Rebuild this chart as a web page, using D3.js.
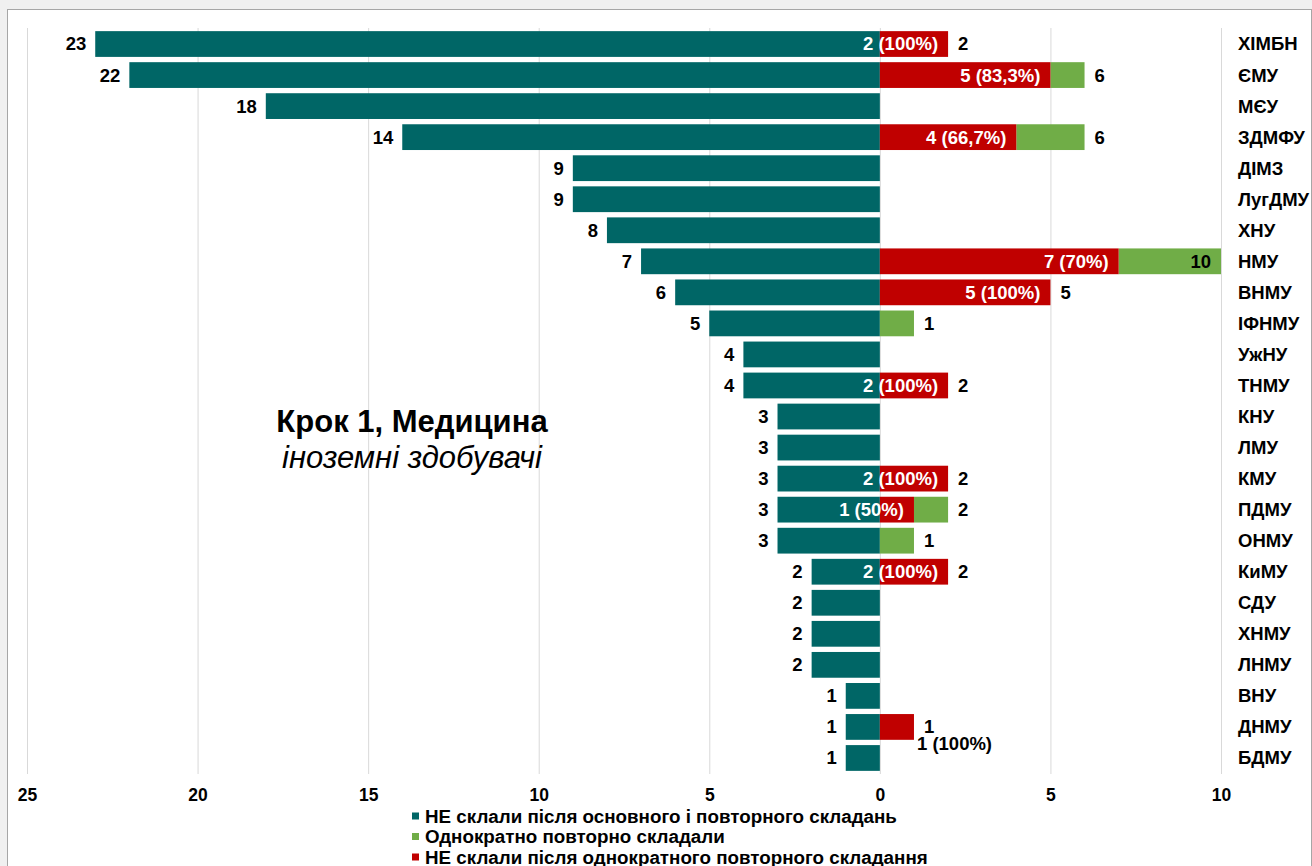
<!DOCTYPE html>
<html>
<head>
<meta charset="utf-8">
<script src="https://cdn.jsdelivr.net/npm/d3@7"></script>
<style>
  html, body { margin: 0; padding: 0; background: #f0f0f0; }
  svg { display: block; font-family: "Liberation Sans", Arial, sans-serif; }
</style>
</head>
<body>
<svg width="1312" height="866"></svg>
<script>
// universities, top to bottom
var universities = ["ХІМБН", "ЄМУ", "МЄУ", "ЗДМФУ", "ДІМЗ", "ЛугДМУ", "ХНУ", "НМУ", "ВНМУ", "ІФНМУ",
  "УжНУ", "ТНМУ", "КНУ", "ЛМУ", "КМУ", "ПДМУ", "ОНМУ", "КиМУ", "СДУ", "ХНМУ", "ЛНМУ", "ВНУ", "ДНМУ", "БДМУ"];

// НЕ склали після основного і повторного складань (drawn to the left)
var failedBoth = [23, 22, 18, 14, 9, 9, 8, 7, 6, 5, 4, 4, 3, 3, 3, 3, 3, 2, 2, 2, 2, 1, 1, 1];
// Однократно повторно складали (total on the right)
var retook = [2, 6, 0, 6, 0, 0, 0, 10, 5, 1, 0, 2, 0, 0, 2, 2, 1, 2, 0, 0, 0, 0, 1, 0];
// НЕ склали після однократного повторного складання
var failedRetake = [2, 5, 0, 4, 0, 0, 0, 7, 5, 0, 0, 2, 0, 0, 2, 1, 0, 2, 0, 0, 0, 0, 1, 0];
// share of the retakers that failed
var failedShare = ["100%", "83,3%", "", "66,7%", "", "", "", "70%", "100%", "", "", "100%", "", "", "100%", "50%", "", "100%", "", "", "", "", "100%", ""];

var xTicks = [-25, -20, -15, -10, -5, 0, 5, 10];
var legendLabels = ["НЕ склали після основного і повторного складань", "Однократно повторно складали", "НЕ склали після однократного повторного складання"];

var teal = "#006666", green = "#70ad47", red = "#c00000";

var rows = universities.map(function(u, i) {
  return {name: u, both: failedBoth[i], total: retook[i], red: failedRetake[i], share: failedShare[i]};
});

var svg = d3.select("svg");

// panel frame
svg.append("rect").attr("x", 7.5).attr("y", 9.5).attr("width", 1304).attr("height", 870)
  .attr("fill", "#fff").attr("stroke", "#a6a6a6");

var x = d3.scaleLinear().domain([-25, 10]).range([27, 1221]);
var y = d3.scaleBand().domain(universities).range([28.5, 773.5]).paddingInner(0.17).paddingOuter(0.085);

// grid
svg.append("g").selectAll("line").data(xTicks).enter().append("line")
  .attr("x1", d => x(d) + 0.5).attr("x2", d => x(d) + 0.5)
  .attr("y1", 28).attr("y2", 774)
  .attr("stroke", "#d9d9d9").attr("stroke-width", 1);

// axis labels
var xAxis = d3.axisBottom(x).tickValues(xTicks).tickSize(0).tickPadding(0).tickFormat(d => Math.abs(d));
var ax = svg.append("g").attr("transform", "translate(0,774)").call(xAxis);
ax.select(".domain").remove();
ax.selectAll("text").attr("dy", null).attr("y", 27)
  .attr("font-size", 17.5).attr("font-weight", "bold").attr("fill", "#000")
  .attr("font-family", "Liberation Sans, Arial, sans-serif");

var bars = svg.append("g");

// left: teal
bars.selectAll(".teal").data(rows).enter().append("rect")
  .attr("x", d => x(-d.both)).attr("y", d => y(d.name))
  .attr("width", d => x(0) - x(-d.both)).attr("height", y.bandwidth())
  .attr("fill", teal);

// right: green total then red part
bars.selectAll(".green").data(rows.filter(d => d.total > d.red)).enter().append("rect")
  .attr("x", d => x(d.red)).attr("y", d => y(d.name))
  .attr("width", d => x(d.total) - x(d.red)).attr("height", y.bandwidth())
  .attr("fill", green);

bars.selectAll(".red").data(rows.filter(d => d.red > 0)).enter().append("rect")
  .attr("x", x(0)).attr("y", d => y(d.name))
  .attr("width", d => x(d.red) - x(0)).attr("height", y.bandwidth())
  .attr("fill", red);

var lab = svg.append("g").attr("font-size", 18.5).attr("font-weight", "bold");
var mid = d => y(d.name) + y.bandwidth() / 2;

// teal value labels
lab.selectAll(".lt").data(rows).enter().append("text")
  .attr("x", d => x(-d.both) - 9).attr("y", mid).attr("dy", "0.35em")
  .attr("text-anchor", "end").text(d => d.both);

// red share labels
var redRows = rows.filter(d => d.red > 0);
lab.selectAll(".lr").data(redRows).enter().append("text")
  .each(function(d) {
    var inside = d.red >= 2 || d.total > d.red;
    var t = d3.select(this).text(d.red + " (" + d.share + ")").attr("dy", "0.35em");
    if (inside) {
      t.attr("x", x(d.red) - 10).attr("y", mid(d)).attr("text-anchor", "end").attr("fill", "#fff");
    } else {
      t.attr("x", x(d.red) + 3).attr("y", mid(d) + 17).attr("text-anchor", "start").attr("fill", "#000");
    }
  });

// total labels
lab.selectAll(".ltot").data(rows.filter(d => d.total > 0)).enter().append("text")
  .each(function(d) {
    var t = d3.select(this).text(d.total).attr("y", mid(d)).attr("dy", "0.35em");
    if (d.total >= x.domain()[1]) t.attr("x", x(d.total) - 10).attr("text-anchor", "end");
    else t.attr("x", x(d.total) + 10).attr("text-anchor", "start");
  });

// category labels
svg.append("g").attr("font-size", 18.5).attr("font-weight", "bold")
  .selectAll("text").data(universities).enter().append("text")
  .attr("x", 1238).attr("y", d => y(d) + y.bandwidth() / 2).attr("dy", "0.35em")
  .text(d => d);

// title
svg.append("text").attr("x", 412).attr("y", 432).attr("text-anchor", "middle")
  .attr("font-size", 31).attr("font-weight", "bold").text("Крок 1, Медицина");
svg.append("text").attr("x", 412).attr("y", 468).attr("text-anchor", "middle")
  .attr("font-size", 31).attr("font-style", "italic").text("іноземні здобувачі");

// legend
var lg = svg.append("g").attr("font-size", 18.8).attr("font-weight", "bold")
  .selectAll("g").data(legendLabels).enter().append("g")
  .attr("transform", (d, i) => "translate(412," + (816 + i * 20.5) + ")");
lg.append("rect").attr("x", 0).attr("y", -3.5).attr("width", 7).attr("height", 7)
  .attr("fill", (d, i) => [teal, green, red][i]);
lg.append("text").attr("x", 13).attr("dy", "0.35em").text(d => d);
</script>
</body>
</html>
